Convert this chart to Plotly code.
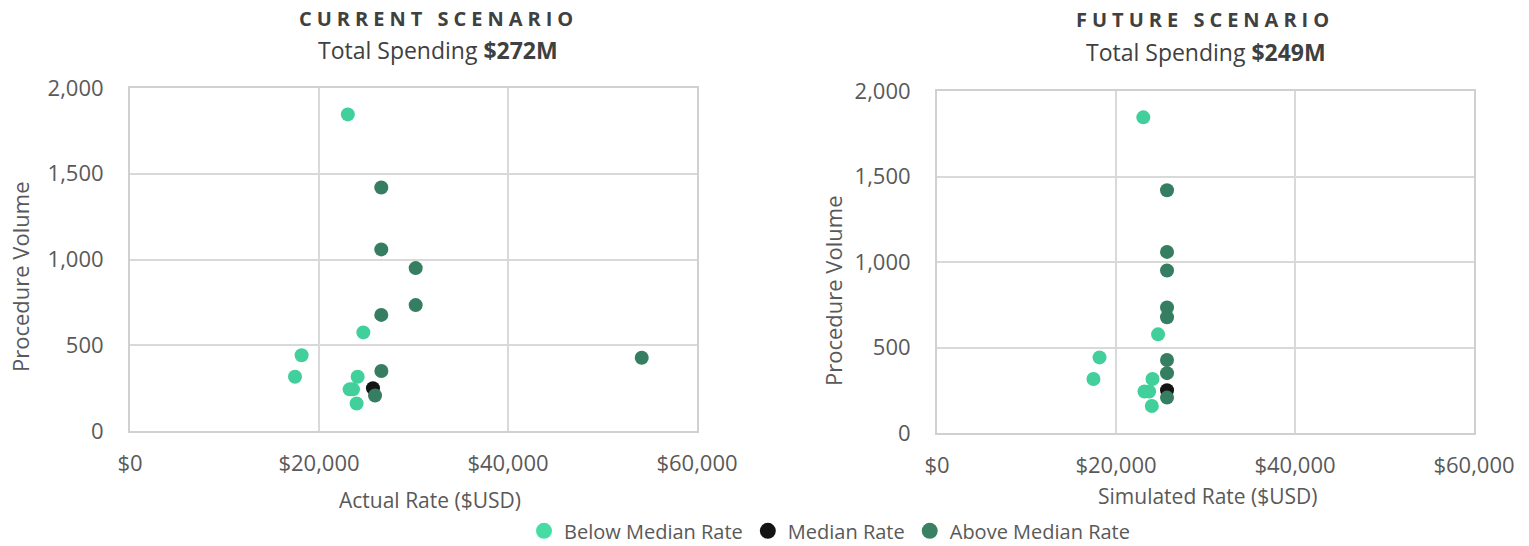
import plotly.graph_objects as go

# ---------------- data ----------------
categories = ["Below Median Rate", "Median Rate", "Above Median Rate"]

# Current scenario (Actual Rate, Procedure Volume)
cur_below_rate = [23050, 24690, 18160, 17460, 24090, 23240, 23600, 23980]
cur_below_vol = [1846, 575, 442, 316, 316, 243, 243, 160]
cur_median_rate = [25710]
cur_median_vol = [250]
cur_above_rate = [26590, 26590, 30230, 30230, 26590, 26600, 25930, 54150]
cur_above_vol = [1420, 1059, 950, 734, 677, 350, 207, 427]

# Future scenario (Simulated Rate, Procedure Volume)
fut_below_rate = [23050, 24700, 18160, 17480, 24080, 23180, 23700, 24000]
fut_below_vol = [1846, 577, 442, 316, 316, 243, 243, 158]
fut_median_rate = [25700]
fut_median_vol = [250]
fut_above_rate = [25700, 25700, 25700, 25700, 25700, 25700, 25700, 25700]
fut_above_vol = [1420, 1059, 950, 734, 677, 350, 207, 427]

x_tickvals = [0, 20000, 40000, 60000]
x_ticktext = ["$0", "$20,000", "$40,000", "$60,000"]
y_tickvals = [0, 500, 1000, 1500, 2000]
y_ticktext = ["0", "500", "1,000", "1,500", "2,000"]

colors = ["#41CF9C", "#141414", "#367E62"]
legend_colors = ["#46DCA4", "#141414", "#3A8062"]

FONT = "'Open Sans', Lato, sans-serif"
TXT = "#595959"
W, H = 1529, 546
OFF = 0  # body margin removed via post_script

fig = go.Figure()

cur = [(cur_below_rate, cur_below_vol), (cur_median_rate, cur_median_vol), (cur_above_rate, cur_above_vol)]
fut = [(fut_below_rate, fut_below_vol), (fut_median_rate, fut_median_vol), (fut_above_rate, fut_above_vol)]

for i, (name, col) in enumerate(zip(categories, colors)):
    fig.add_trace(go.Scatter(x=cur[i][0], y=cur[i][1], mode="markers", name=name,
                             marker=dict(color=col, size=14, line=dict(width=0)),
                             xaxis="x", yaxis="y", legendgroup=name, showlegend=False))
for i, (name, col) in enumerate(zip(categories, colors)):
    fig.add_trace(go.Scatter(x=fut[i][0], y=fut[i][1], mode="markers", name=name,
                             marker=dict(color=col, size=14, line=dict(width=0)),
                             xaxis="x2", yaxis="y2", legendgroup=name, showlegend=False))
# legend entries (larger symbols, as in the reference)
for name, col in zip(categories, legend_colors):
    fig.add_trace(go.Scatter(x=[None], y=[None], mode="markers", name=name,
                             marker=dict(color=col, size=18, line=dict(width=0)),
                             xaxis="x", yaxis="y", legendgroup=name, showlegend=True))

def px_x(p):
    return (p - OFF) / W

def px_y(p):
    return 1 - (p - OFF) / H

axis_common = dict(
    showgrid=True, gridcolor="#d9d9d9", gridwidth=2,
    showline=True, linecolor="#d0d0d0", linewidth=2, mirror=True,
    zeroline=False, ticks="", automargin=False,
    tickfont=dict(family=FONT, size=22, color=TXT),
)

fig.update_layout(
    width=W, height=H,
    margin=dict(l=0, r=0, t=0, b=0, autoexpand=False),
    paper_bgcolor="white", plot_bgcolor="white",
    font=dict(family=FONT, color=TXT),
    xaxis=dict(domain=[px_x(130), px_x(697)], anchor="y", range=[0, 60000],
               tickvals=x_tickvals, ticktext=x_ticktext, ticklabelstandoff=12, **axis_common),
    yaxis=dict(domain=[px_y(431), px_y(88)], anchor="x", range=[0, 2000],
               tickvals=y_tickvals, ticktext=y_ticktext, ticklabelstandoff=20, **axis_common),
    xaxis2=dict(domain=[px_x(937), px_x(1474)], anchor="y2", range=[0, 60000],
                tickvals=x_tickvals, ticktext=x_ticktext, ticklabelstandoff=12, **axis_common),
    yaxis2=dict(domain=[px_y(433), px_y(91)], anchor="x2", range=[0, 2000],
                tickvals=y_tickvals, ticktext=y_ticktext, ticklabelstandoff=20, **axis_common),
    legend=dict(orientation="h", x=px_x(524), y=-0.008, xanchor="left", yanchor="bottom",
                font=dict(family=FONT, size=20, color=TXT), itemsizing="trace",
                bgcolor="rgba(0,0,0,0)"),
    showlegend=True,
)

ann = []
def add_text(x, y, text, size, color=TXT, angle=0):
    ann.append(dict(x=px_x(x), y=px_y(y), xref="paper", yref="paper", text=text,
                    showarrow=False, xanchor="center", yanchor="middle", textangle=angle,
                    font=dict(family=FONT, size=size, color=color)))

add_text(438, 19, "<b><span style='letter-spacing:5px'>CURRENT SCENARIO</span></b>", 20, "#404040")
add_text(438, 50, "Total Spending <b>$272M</b>", 23, "#404040")
add_text(1205, 20, "<b><span style='letter-spacing:5px'>FUTURE SCENARIO</span></b>", 20, "#404040")
add_text(1206, 52, "Total Spending <b>$249M</b>", 23, "#404040")
add_text(430, 500, "Actual Rate ($USD)", 21)
add_text(1208, 496, "Simulated Rate ($USD)", 21)
add_text(20, 277, "Procedure Volume", 22, angle=-90)
add_text(833, 291, "Procedure Volume", 22, angle=-90)
fig.update_layout(annotations=ann)

fig.write_html("out.html", config={"displayModeBar": False},
               post_script="document.body.style.margin='0';")
